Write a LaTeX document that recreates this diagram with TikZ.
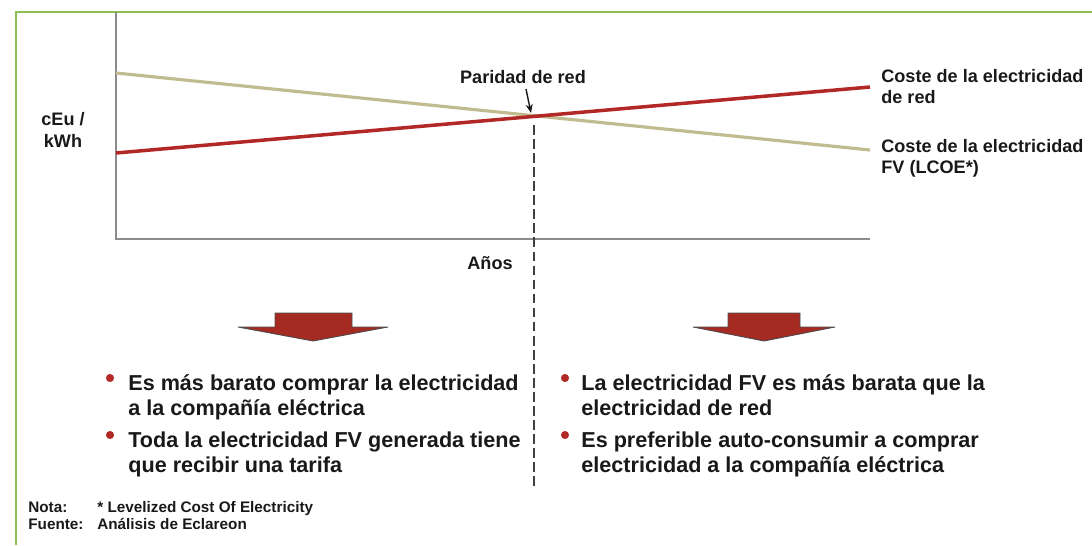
\documentclass[tikz,border=0pt]{standalone}
\usepackage{fontspec}
\setmainfont{Liberation Sans}
\usetikzlibrary{arrows.meta,positioning,calc}
\usepackage{xcolor}
\definecolor{gridred}{RGB}{178,40,38}
\definecolor{pvbeige}{RGB}{192,188,144}
\definecolor{framegreen}{RGB}{140,190,80}
\definecolor{arrowred}{RGB}{165,42,34}
\definecolor{axisgray}{RGB}{140,140,140}
\definecolor{inkdark}{RGB}{25,25,25}

\begin{document}
\begin{tikzpicture}[x=0.02cm, y=-0.02cm,
        every node/.style={text=inkdark, inner sep=0pt},
        lbl/.style={font=\bfseries\fontsize{10.3}{11.8}\selectfont, align=left, anchor=base west},
        bulletxt/.style={font=\bfseries\fontsize{12.3}{14.2}\selectfont, align=left, anchor=base west},
        note/.style={font=\bfseries\fontsize{8.7}{9.6}\selectfont, anchor=base west},
        dot/.style={circle, fill=gridred, minimum size=4.6pt},
        blockarrow/.style={fill=arrowred, draw=black!70, line width=0.5pt}]
            \useasboundingbox (0,0) rectangle (1092,545);
            % frame
            \draw[framegreen, line width=1.1pt] (16,545) -- (16,12) -- (1092,12);

            % axes
            \coordinate (ytop) at (116,12);
            \coordinate (orig) at (116,239);
            \coordinate (xend) at (870,239);
            \draw[axisgray, line width=0.6pt] (ytop) -- (orig) -- (xend);

            % cost lines
            \coordinate (pv0) at (116,73);
            \coordinate (pv1) at (870,150);
            \coordinate (grid0) at (116,153);
            \coordinate (grid1) at (870,87);
            \coordinate (cross) at (533,117);
            \draw[pvbeige, line width=1.8pt] (pv0) -- (pv1);
            \draw[gridred, line width=2pt] (grid0) -- (grid1);

            % labels (base = last line)
            \node[font=\bfseries\fontsize{10.3}{12.3}\selectfont, align=center, anchor=base] (unit) at (63,147) {cEu /\\kWh};
            \node[font=\bfseries\fontsize{10.3}{12.3}\selectfont, anchor=base] (anos) at (490,269) {Años};
            \node[font=\bfseries\fontsize{10.3}{12.3}\selectfont, anchor=base] (paridad) at (523,83) {Paridad de red};
            \node[lbl] (gridlbl) at (881,103) {Coste de la electricidad\\de red};
            \node[lbl] (pvlbl) at (881,173) {Coste de la electricidad\\FV (LCOE*)};

            \draw[-{Stealth[length=5pt,width=4pt]}, line width=0.8pt, inkdark] (526,89) -- ($(cross)+(-2,-4)$);
            \coordinate (splittop) at (534,125);
            \coordinate (splitbot) at (534,487);
            \draw[black!75, line width=1.2pt, dash pattern=on 5.5pt off 2.5pt] (splittop) -- (splitbot);

            % block arrows
            \draw[blockarrow] (275,313) -- (352,313) -- (352,327) -- (388,327) -- (313,341) -- (238,327) -- (275,327) -- cycle;
            \draw[blockarrow] (728,313) -- (800,313) -- (800,327) -- (835,327) -- (764,341) -- (693,327) -- (728,327) -- cycle;

            % bullets
            \node[dot] (dotl1) at (110,378) {};
            \node[bulletxt] (left1) at (128,415) {Es más barato comprar la electricidad\\a la compañía eléctrica};
            \node[dot] (dotl2) at (110,435) {};
            \node[bulletxt] (left2) at (128,472) {Toda la electricidad FV generada tiene\\que recibir una tarifa};
            \node[dot] (dotr1) at (565,378) {};
            \node[bulletxt] (right1) at (581,415) {La electricidad FV es más barata que la\\electricidad de red};
            \node[dot] (dotr2) at (565,435) {};
            \node[bulletxt] (right2) at (581,472) {Es preferible auto-consumir a comprar\\electricidad a la compañía eléctrica};

            % notes
            \node[note] (nota) at (28,512) {Nota:};
            \node[note] (notatxt) at (97,512) {* Levelized Cost Of Electricity};
            \node[note] (fuente) at (28,529) {Fuente:};
            \node[note] (fuentetxt) at (97,529) {Análisis de Eclareon};
        \end{tikzpicture}
\end{document}
